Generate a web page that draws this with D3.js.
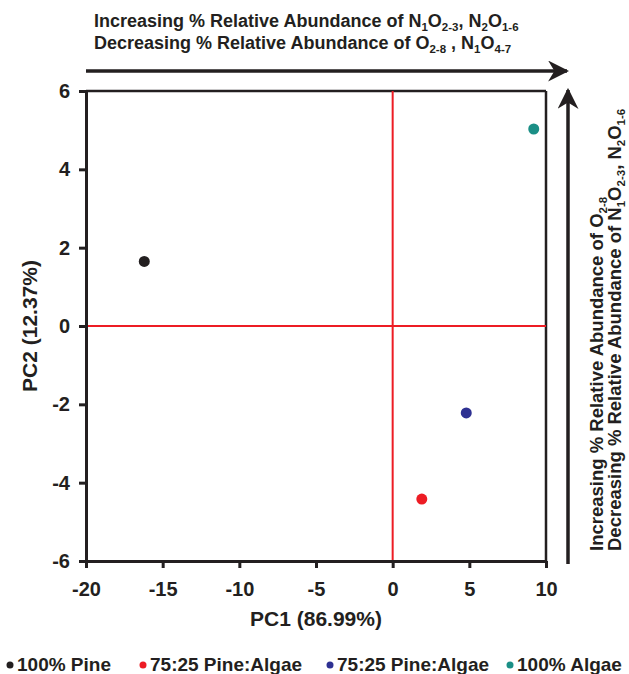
<!DOCTYPE html>
<html>
<head>
<meta charset="utf-8">
<script src="https://cdn.jsdelivr.net/npm/d3@7"></script>
<style>
  body { margin: 0; background: #fff; }
  svg { font-family: "Liberation Sans", Arial, sans-serif; font-weight: bold; }
</style>
</head>
<body>
<div id="vis"></div>
<script>
// PCA score plot
const samples = ["100% Pine", "75:25 Pine:Algae", "75:25 Pine:Algae", "100% Algae"];
const colors = ["#231f20", "#ed1c24", "#2e3192", "#1b8f86"];
const pc1 = [-16.2, 1.9, 4.8, 9.2];
const pc2 = [1.65, -4.42, -2.22, 5.03];
const xTicks = [-20, -15, -10, -5, 0, 5, 10];
const yTicks = [-6, -4, -2, 0, 2, 4, 6];

const width = 629;
const height = 674;
const margin = { top: 91, right: 83, bottom: 113, left: 86 };

const svg = d3.select("#vis")
  .append("svg")
  .attr("width", width)
  .attr("height", height);

const xScale = d3.scaleLinear()
  .domain([-20, 10])
  .range([margin.left, width - margin.right]);

const yScale = d3.scaleLinear()
  .domain([-6, 6])
  .range([height - margin.bottom, margin.top]);

// Frame (top and right)
svg.append("line")
  .attr("x1", xScale(-20)).attr("x2", xScale(10))
  .attr("y1", yScale(6)).attr("y2", yScale(6))
  .attr("stroke", "#231f20").attr("stroke-width", 2.5);
svg.append("line")
  .attr("x1", xScale(10)).attr("x2", xScale(10))
  .attr("y1", yScale(6)).attr("y2", yScale(-6))
  .attr("stroke", "#231f20").attr("stroke-width", 2.5);

// Zero lines
svg.append("line")
  .attr("x1", xScale(0)).attr("x2", xScale(0))
  .attr("y1", yScale(6)).attr("y2", yScale(-6))
  .attr("stroke", "#ed1c24").attr("stroke-width", 2);
svg.append("line")
  .attr("x1", xScale(-20)).attr("x2", xScale(10))
  .attr("y1", yScale(0)).attr("y2", yScale(0))
  .attr("stroke", "#ed1c24").attr("stroke-width", 2);

// Axes
const xAxis = svg.append("g")
  .attr("transform", `translate(0,${height - margin.bottom})`)
  .call(d3.axisBottom(xScale).tickValues(xTicks).tickFormat(d => String(d))
    .tickSize(7).tickPadding(14).tickSizeOuter(0));
const yAxis = svg.append("g")
  .attr("transform", `translate(${margin.left},0)`)
  .call(d3.axisLeft(yScale).tickValues(yTicks).tickFormat(d => String(d))
    .tickSize(7).tickPadding(9).tickSizeOuter(0));

[xAxis, yAxis].forEach(g => {
  g.select(".domain").attr("stroke", "#231f20").attr("stroke-width", 3);
  g.selectAll(".tick line").attr("stroke", "#231f20").attr("stroke-width", 3);
  g.selectAll(".tick text")
    .attr("fill", "#231f20")
    .style("font-size", "20px")
    .style("font-weight", "bold")
    .style("font-family", "'Liberation Sans', Arial, sans-serif");
});

// Axis titles
svg.append("text")
  .attr("x", (xScale(-20) + xScale(10)) / 2)
  .attr("y", 626)
  .attr("text-anchor", "middle")
  .attr("fill", "#231f20")
  .attr("font-size", "21px")
  .text("PC1 (86.99%)");

svg.append("text")
  .attr("transform", `translate(37,${yScale(0)}) rotate(-90)`)
  .attr("text-anchor", "middle")
  .attr("fill", "#231f20")
  .attr("font-size", "21px")
  .text("PC2 (12.37%)");

// Points
svg.selectAll("circle.pt")
  .data(pc1.map((v, i) => ({ x: v, y: pc2[i], c: colors[i] })))
  .enter()
  .append("circle")
  .attr("class", "pt")
  .attr("cx", d => xScale(d.x))
  .attr("cy", d => yScale(d.y))
  .attr("r", 5.5)
  .attr("fill", d => d.c);

// Arrows
const defs = svg.append("defs");
defs.append("marker")
  .attr("id", "arrow")
  .attr("viewBox", "0 0 10 10")
  .attr("refX", 9).attr("refY", 5)
  .attr("markerWidth", 6).attr("markerHeight", 6)
  .attr("markerUnits", "strokeWidth")
  .attr("orient", "auto")
  .append("path")
  .attr("d", "M0,0 L10,5 L0,10 L3,5 Z")
  .attr("fill", "#231f20");

svg.append("line")
  .attr("x1", xScale(-20)).attr("x2", 567)
  .attr("y1", 71).attr("y2", 71)
  .attr("stroke", "#231f20").attr("stroke-width", 3.5)
  .attr("marker-end", "url(#arrow)");

svg.append("line")
  .attr("x1", 568).attr("x2", 568)
  .attr("y1", 564).attr("y2", 90)
  .attr("stroke", "#231f20").attr("stroke-width", 3.5)
  .attr("marker-end", "url(#arrow)");

// Annotation text with subscripts
function subText(sel, parts) {
  let shift = 0;
  parts.forEach(p => {
    if (typeof p === "string") {
      sel.append("tspan").attr("dy", -shift).text(p);
      shift = 0;
    } else {
      sel.append("tspan").attr("dy", 4 - shift).attr("font-size", "11.5px").text(p.sub);
      shift = 4;
    }
  });
}

const topLines = [
  ["Increasing % Relative Abundance of N", { sub: "1" }, "O", { sub: "2-3" }, ", N", { sub: "2" }, "O", { sub: "1-6" }],
  ["Decreasing % Relative Abundance of O", { sub: "2-8" }, " , N", { sub: "1" }, "O", { sub: "4-7" }]
];
topLines.forEach((parts, i) => {
  const t = svg.append("text")
    .attr("x", 94)
    .attr("y", 27 + i * 22)
    .attr("fill", "#231f20")
    .attr("font-size", "18px");
  subText(t, parts);
});

const rightLines = [
  ["Increasing % Relative Abundance of O", { sub: "2-8" }],
  ["Decreasing % Relative Abundance of N", { sub: "1" }, "O", { sub: "2-3" }, ", N", { sub: "2" }, "O", { sub: "1-6" }]
];
rightLines.forEach((parts, i) => {
  const t = svg.append("text")
    .attr("transform", `translate(${603 + i * 18},551) rotate(-90)`)
    .attr("fill", "#231f20")
    .attr("font-size", "18.5px");
  subText(t, parts);
});

// Legend
const legendX = [10, 143, 330, 510];
samples.forEach((s, i) => {
  svg.append("circle")
    .attr("cx", legendX[i]).attr("cy", 665)
    .attr("r", 3.5)
    .attr("fill", colors[i]);
  svg.append("text")
    .attr("x", legendX[i] + 7)
    .attr("y", 671)
    .attr("fill", "#231f20")
    .attr("font-size", "19px")
    .text(s);
});
</script>
</body>
</html>
